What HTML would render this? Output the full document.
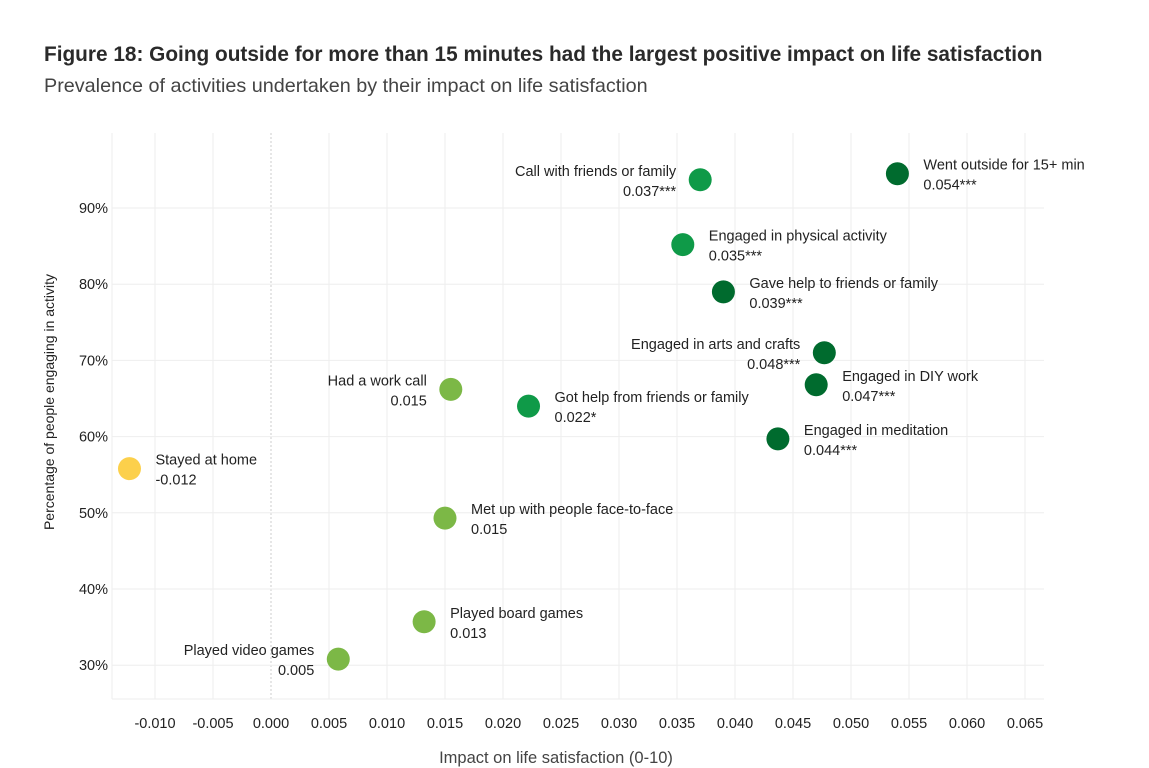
<!DOCTYPE html>
<html><head><meta charset="utf-8"><style>
body{margin:0;background:#fff;width:1149px;height:768px;overflow:hidden;font-family:"Liberation Sans",sans-serif;color:#222}
h1{position:absolute;left:44px;top:43px;margin:0;font-size:20.8px;font-weight:bold;color:#2a2a2a;white-space:nowrap}
h2{position:absolute;left:44px;top:75px;margin:0;font-size:19.8px;font-weight:normal;color:#444;white-space:nowrap}
svg{position:absolute;left:0;top:0}
text{font-family:"Liberation Sans",sans-serif}
</style></head><body>
<h1>Figure 18: Going outside for more than 15 minutes had the largest positive impact on life satisfaction</h1>
<h2>Prevalence of activities undertaken by their impact on life satisfaction</h2>
<svg id="chart" width="1149" height="768"></svg>
<script>
const labels=["Went outside for 15+ min","Call with friends or family","Engaged in physical activity","Gave help to friends or family","Engaged in arts and crafts","Engaged in DIY work","Had a work call","Got help from friends or family","Engaged in meditation","Stayed at home","Met up with people face-to-face","Played board games","Played video games"];
const impact=[0.054,0.037,0.0355,0.039,0.0477,0.047,0.0155,0.0222,0.0437,-0.0122,0.015,0.0132,0.0058];
const prevalence=[94.5,93.7,85.2,79.0,71.0,66.8,66.2,64.0,59.7,55.8,49.3,35.7,30.8];
const valueText=["0.054***","0.037***","0.035***","0.039***","0.048***","0.047***","0.015","0.022*","0.044***","-0.012","0.015","0.013","0.005"];
const labelSide=["r","l","r","r","l","r","l","r","r","r","r","r","l"];
const xTicks=[-0.010,-0.005,0.000,0.005,0.010,0.015,0.020,0.025,0.030,0.035,0.040,0.045,0.050,0.055,0.060,0.065];
const yTicks=[30,40,50,60,70,80,90];
const NS="http://www.w3.org/2000/svg",svg=document.getElementById('chart');
const X=v=>271+v/0.005*58, Y=p=>208-(p-90)*7.62;
const L=112,R=1044,T=133,B=699;
function el(t,a,p){const e=document.createElementNS(NS,t);for(const k in a)e.setAttribute(k,a[k]);(p||svg).appendChild(e);return e;}
const grid=el('g',{});


el('line',{x1:L,x2:L,y1:T,y2:B,stroke:'#eee'},grid);
xTicks.forEach(t=>{
 const x=X(t),zero=Math.abs(t)<1e-9;
 el('line',{x1:x,x2:x,y1:T,y2:B,stroke:zero?'#ccc':'#eee','stroke-dasharray':zero?'2,2':''},grid);
 const tx=el('text',{x:x,y:728,'text-anchor':'middle','font-size':14.5,fill:'#222'});
 tx.textContent=t.toFixed(3);
 
 
});
yTicks.forEach(t=>{
 const y=Y(t);
 el('line',{x1:L,x2:R,y1:y,y2:y,stroke:'#eee'},grid);
 const tx=el('text',{x:108,y:y+5,'text-anchor':'end','font-size':14.5,fill:'#222'});
 tx.textContent=t+'%';
 
 
});
el('line',{x1:L,x2:R,y1:B,y2:B,stroke:'#eee'},grid);
const xt=el('text',{x:556,y:763,'text-anchor':'middle','font-size':16.5,fill:'#444'});xt.textContent='Impact on life satisfaction (0-10)';


const yt=el('text',{x:0,y:0,'text-anchor':'middle','font-size':14,fill:'#222',transform:'translate(54,402) rotate(-90)'});yt.textContent='Percentage of people engaging in activity';


function color(v){return v<0?'#fcd04b':v<0.02?'#7cb846':v<0.038?'#0f9a48':'#006b2e';}
labels.forEach((lab,i)=>{
 const cx=X(impact[i]),cy=Y(prevalence[i]);
 const c=el('circle',{cx:cx,cy:cy,r:11.5,fill:color(impact[i])});
 
 
 const r=labelSide[i]==='r',tx=r?cx+26:cx-24,anchor=r?'start':'end';
 const t1=el('text',{x:tx,y:cy-4,'text-anchor':anchor,'font-size':14.5,fill:'#222'});t1.textContent=lab;
 
 
 const t2=el('text',{x:tx,y:cy+16,'text-anchor':anchor,'font-size':14.5,fill:'#222'});t2.textContent=valueText[i];
 
 
});
</script>
</body></html>
